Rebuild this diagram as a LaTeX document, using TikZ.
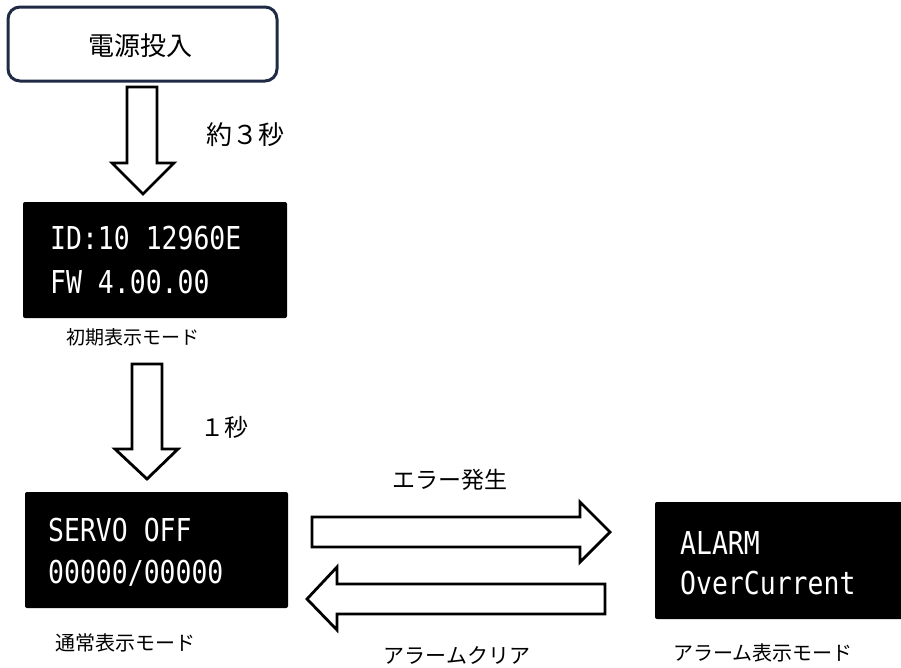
\documentclass[tikz,border=0pt]{standalone}
\usepackage{fontspec}
\newfontfamily\jp{Noto Sans CJK JP}
\newfontfamily\lcd[FakeStretch=0.84]{DejaVu Sans Mono}
\definecolor{navy}{HTML}{1F2A44}
\tikzset{
  jptext/.style={inner sep=0pt, font=\jp\fontsize{#1}{#1}\selectfont},
  lcdbox/.style={fill=black, rounded corners=2pt, draw=none},
  lcdline/.style={anchor=base west, inner sep=0pt, text=white, font=\lcd\fontsize{31.5}{31.5}\selectfont},
  blockarrow/.style={draw=black, fill=white, line width=2.8pt, line join=miter},
}
\begin{document}
\begin{tikzpicture}[x=1pt,y=-1pt]
\useasboundingbox (0,0) rectangle (901,667);

% power on box
\draw[navy, line width=3pt, rounded corners=12pt, fill=white] (8,7) rectangle (277,81);
\node[jptext=26] (power) at (140,46) {電源投入};

% arrow 1
\draw[blockarrow] (127,87) -- (157,87) -- (157,163) -- (174,163) -- (143,194) -- (112,163) -- (127,163) -- cycle;
\node[jptext=26] (t3) at (245,135) {約３秒};

% box 1
\fill[lcdbox] (23,202) rectangle (287,318);
\node[lcdline] (id) at (50,249.5) {ID:10 12960E};
\node[lcdline] (fw) at (50,293.5) {FW 4.00.00};
\node[jptext=19] (init) at (133,337) {初期表示モード};

% arrow 2
\draw[blockarrow] (132,364) -- (162,364) -- (162,449) -- (178,449) -- (147,479) -- (115,449) -- (132,449) -- cycle;
\node[jptext=24] (t1) at (224,427) {１秒};

% box 2
\fill[lcdbox] (25,492) rectangle (288,608);
\node[lcdline] (servo) at (48,541.5) {SERVO OFF};
\node[lcdline] (cnt) at (48,583.5) {00000/00000};
\node[jptext=20] (normal) at (125,643) {通常表示モード};

% right arrow
\draw[blockarrow] (312,517) -- (580,517) -- (580,502) -- (610,532) -- (580,562) -- (580,547) -- (312,547) -- cycle;
\node[jptext=23] (err) at (450,480) {エラー発生};

% left arrow
\draw[blockarrow] (605,584) -- (337,584) -- (337,567) -- (307,599) -- (337,630) -- (337,614) -- (605,614) -- cycle;
\node[jptext=21] (clr) at (457,655) {アラームクリア};

% box 3
\fill[lcdbox] (655,502) rectangle (906,619);
\node[lcdline] (alarm) at (680,554.5) {ALARM};
\node[lcdline] (oc) at (680,594.5) {OverCurrent};
\node[jptext=20] (almode) at (763,653) {アラーム表示モード};
\end{tikzpicture}
\end{document}
